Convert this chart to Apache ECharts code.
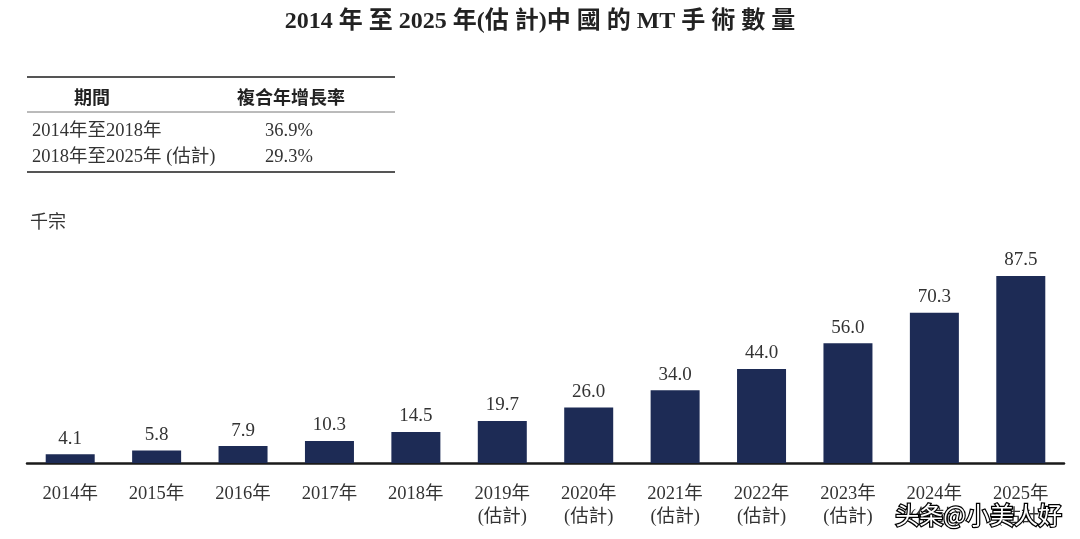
<!DOCTYPE html>
<html><head><meta charset="utf-8">
<script src="https://cdn.jsdelivr.net/npm/echarts@6/dist/echarts.min.js"></script>
<style>html,body{margin:0;padding:0;background:#fff}#c{width:1080px;height:539px}</style>
</head><body><div id="c"></div>
<script>
const categories = ['2014年','2015年','2016年','2017年','2018年','2019年\n(估計)','2020年\n(估計)','2021年\n(估計)','2022年\n(估計)','2023年\n(估計)','2024年\n(估計)','2025年\n(估計)'];
const values = [4.1, 5.8, 7.9, 10.3, 14.5, 19.7, 26.0, 34.0, 44.0, 56.0, 70.3, 87.5];
const titleText = '2014 年 至 2025 年(估 計)中 國 的 MT 手 術 數 量';
const tableHeader = ['期間', '複合年增長率'];
const tablePeriods = ['2014年至2018年', '2018年至2025年 (估計)'];
const tableRates = ['36.9%', '29.3%'];
const unitLabel = '千宗';
const watermark = '头条@小美人好';

const serif = '"Liberation Serif","Noto Sans CJK TC",serif';
const sans = '"Noto Sans CJK TC","Noto Sans",sans-serif';
const txtColor = '#333';

const graphics = [
  {type:'line', shape:{x1:27,y1:77,x2:395,y2:77}, style:{stroke:'#555',lineWidth:2}},
  {type:'line', shape:{x1:27,y1:112,x2:395,y2:112}, style:{stroke:'#777',lineWidth:1}},
  {type:'line', shape:{x1:27,y1:172,x2:395,y2:172}, style:{stroke:'#555',lineWidth:2}},
  {type:'text', x:92, y:97, style:{text:tableHeader[0], font:'bold 18px '+sans, fill:'#222', align:'center', verticalAlign:'middle'}},
  {type:'text', x:291, y:97, style:{text:tableHeader[1], font:'bold 18px '+sans, fill:'#222', align:'center', verticalAlign:'middle'}},
  {type:'text', x:32, y:131, style:{text:tablePeriods[0], font:'18.5px '+serif, fill:txtColor, align:'left', verticalAlign:'middle'}},
  {type:'text', x:32, y:157, style:{text:tablePeriods[1], font:'18.5px '+serif, fill:txtColor, align:'left', verticalAlign:'middle'}},
  {type:'text', x:265, y:131, style:{text:tableRates[0], font:'18.5px '+serif, fill:txtColor, align:'left', verticalAlign:'middle'}},
  {type:'text', x:265, y:157, style:{text:tableRates[1], font:'18.5px '+serif, fill:txtColor, align:'left', verticalAlign:'middle'}},
  {type:'text', x:30, y:221, style:{text:unitLabel, font:'18px '+sans, fill:txtColor, align:'left', verticalAlign:'middle'}},
  {type:'text', x:1062, y:515, z:100, style:{text:watermark, font:'24px '+sans, fill:'#fff', stroke:'#000', lineWidth:2.5, align:'right', verticalAlign:'middle'}}
];

const chart = echarts.init(document.getElementById('c'));
chart.setOption({
  animation:false,
  backgroundColor:'#fff',
  title:{text:titleText, left:'center', top:5, textStyle:{fontFamily:serif, fontWeight:'bold', fontSize:24, color:'#222'}},
  grid:{left:27, right:16, top:249.3, bottom:76, containLabel:false},
  xAxis:{type:'category', data:categories,
    axisLine:{lineStyle:{color:'#1a1a1a', width:2.5}},
    axisTick:{show:false},
    axisLabel:{fontFamily:serif, fontSize:18.5, color:txtColor, margin:20, lineHeight:23, interval:0}
  },
  yAxis:{type:'value', min:0, max:100, show:false, splitLine:{show:false}},
  series:[{type:'bar', data:values, barWidth:49, itemStyle:{color:'#1d2b55'},
    label:{show:true, position:'top', distance:6, fontFamily:serif, fontSize:19, color:txtColor,
      formatter:p=>p.value.toFixed(1)}}],
  graphic:graphics
});
</script></body></html>
